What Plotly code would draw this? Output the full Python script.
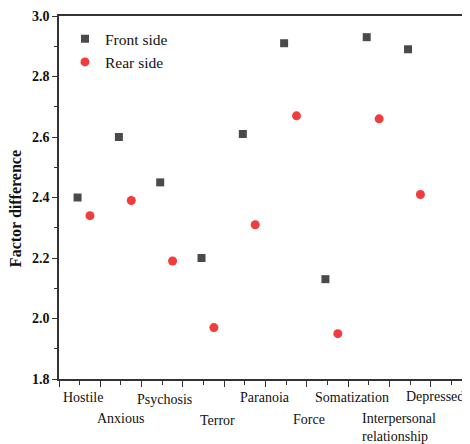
import plotly.graph_objects as go

# ---- data ----
categories = ["Hostile", "Anxious", "Psychosis", "Terror", "Paranoia",
              "Force", "Somatization", "Interpersonal<br>relationship", "Depressed"]
front_side = [2.40, 2.60, 2.45, 2.20, 2.61, 2.91, 2.13, 2.93, 2.89]
rear_side = [2.34, 2.39, 2.19, 1.97, 2.31, 2.67, 1.95, 2.66, 2.41]
y_ticks = [1.8, 2.0, 2.2, 2.4, 2.6, 2.8, 3.0]

# ---- layout config ----
front_offset = 0.45
rear_offset = 0.75
label_pos = [0.57, 1.49, 2.56, 3.83, 4.98, 6.05, 7.09, 8.23, 9.10]
label_shift = [-18, -39.5, -20, -41, -18, -40, -18, -48.5, -17]

FONT = "Liberation Serif, Times New Roman, serif"
idx = list(range(len(categories)))

fig = go.Figure()
fig.add_trace(go.Scatter(
    x=[i + front_offset for i in idx], y=front_side, mode="markers",
    name="Front side",
    marker=dict(symbol="square", size=8, color="#4a4a4a", line=dict(width=0)),
))
fig.add_trace(go.Scatter(
    x=[i + rear_offset for i in idx], y=rear_side, mode="markers",
    name="Rear side",
    marker=dict(symbol="circle", size=9, color="#f03c3c", line=dict(width=0)),
))

for i, cat in enumerate(categories):
    fig.add_annotation(
        x=label_pos[i], xref="x", y=0, yref="paper",
        text=cat, showarrow=False, xanchor="center", yanchor="middle",
        yshift=label_shift[i], align="left",
        font=dict(family=FONT, size=14, color="#111111"),
    )

fig.add_annotation(
    x=-0.107, xref="paper", y=0.468, yref="paper",
    text="<b>Factor difference</b>", textangle=-90, showarrow=False,
    xanchor="center", yanchor="middle",
    font=dict(family=FONT, size=16, color="#111111"),
)

fig.update_layout(
    width=462, height=436,
    margin=dict(l=51, r=0, t=8, b=65),
    paper_bgcolor="white", plot_bgcolor="white",
    showlegend=True,
    legend=dict(
        x=0.0146, y=0.983, xanchor="left", yanchor="top",
        bgcolor="rgba(0,0,0,0)", borderwidth=0,
        font=dict(family=FONT, size=15.5, color="#111111"),
        tracegroupgap=0, itemwidth=30,
    ),
    xaxis=dict(
        range=[0, 9.95], showgrid=False, zeroline=False,
        showline=True, linecolor="#333333", linewidth=1.6, mirror=True,
        ticks="outside", tickmode="linear", tick0=0, dtick=1,
        ticklen=6, tickwidth=1.3, tickcolor="#333333",
        showticklabels=False,
        minor=dict(ticks="outside", dtick=0.5, tick0=0, ticklen=4,
                   tickwidth=1.2, tickcolor="#333333", showgrid=False),
    ),
    yaxis=dict(
        range=[1.8, 3.0], showgrid=False, zeroline=False,
        showline=True, linecolor="#333333", linewidth=1.6,
        ticks="outside", tickvals=y_ticks,
        ticktext=["%.1f" % v for v in y_ticks],
        ticklen=5, tickwidth=1.3, tickcolor="#333333",
        tickfont=dict(family=FONT, size=14, color="#111111", weight="bold"),
        minor=dict(ticks="outside", dtick=0.1, tick0=1.8, ticklen=3,
                   tickwidth=1.2, tickcolor="#333333", showgrid=False),
    ),
)

fig.write_html("out.html")
